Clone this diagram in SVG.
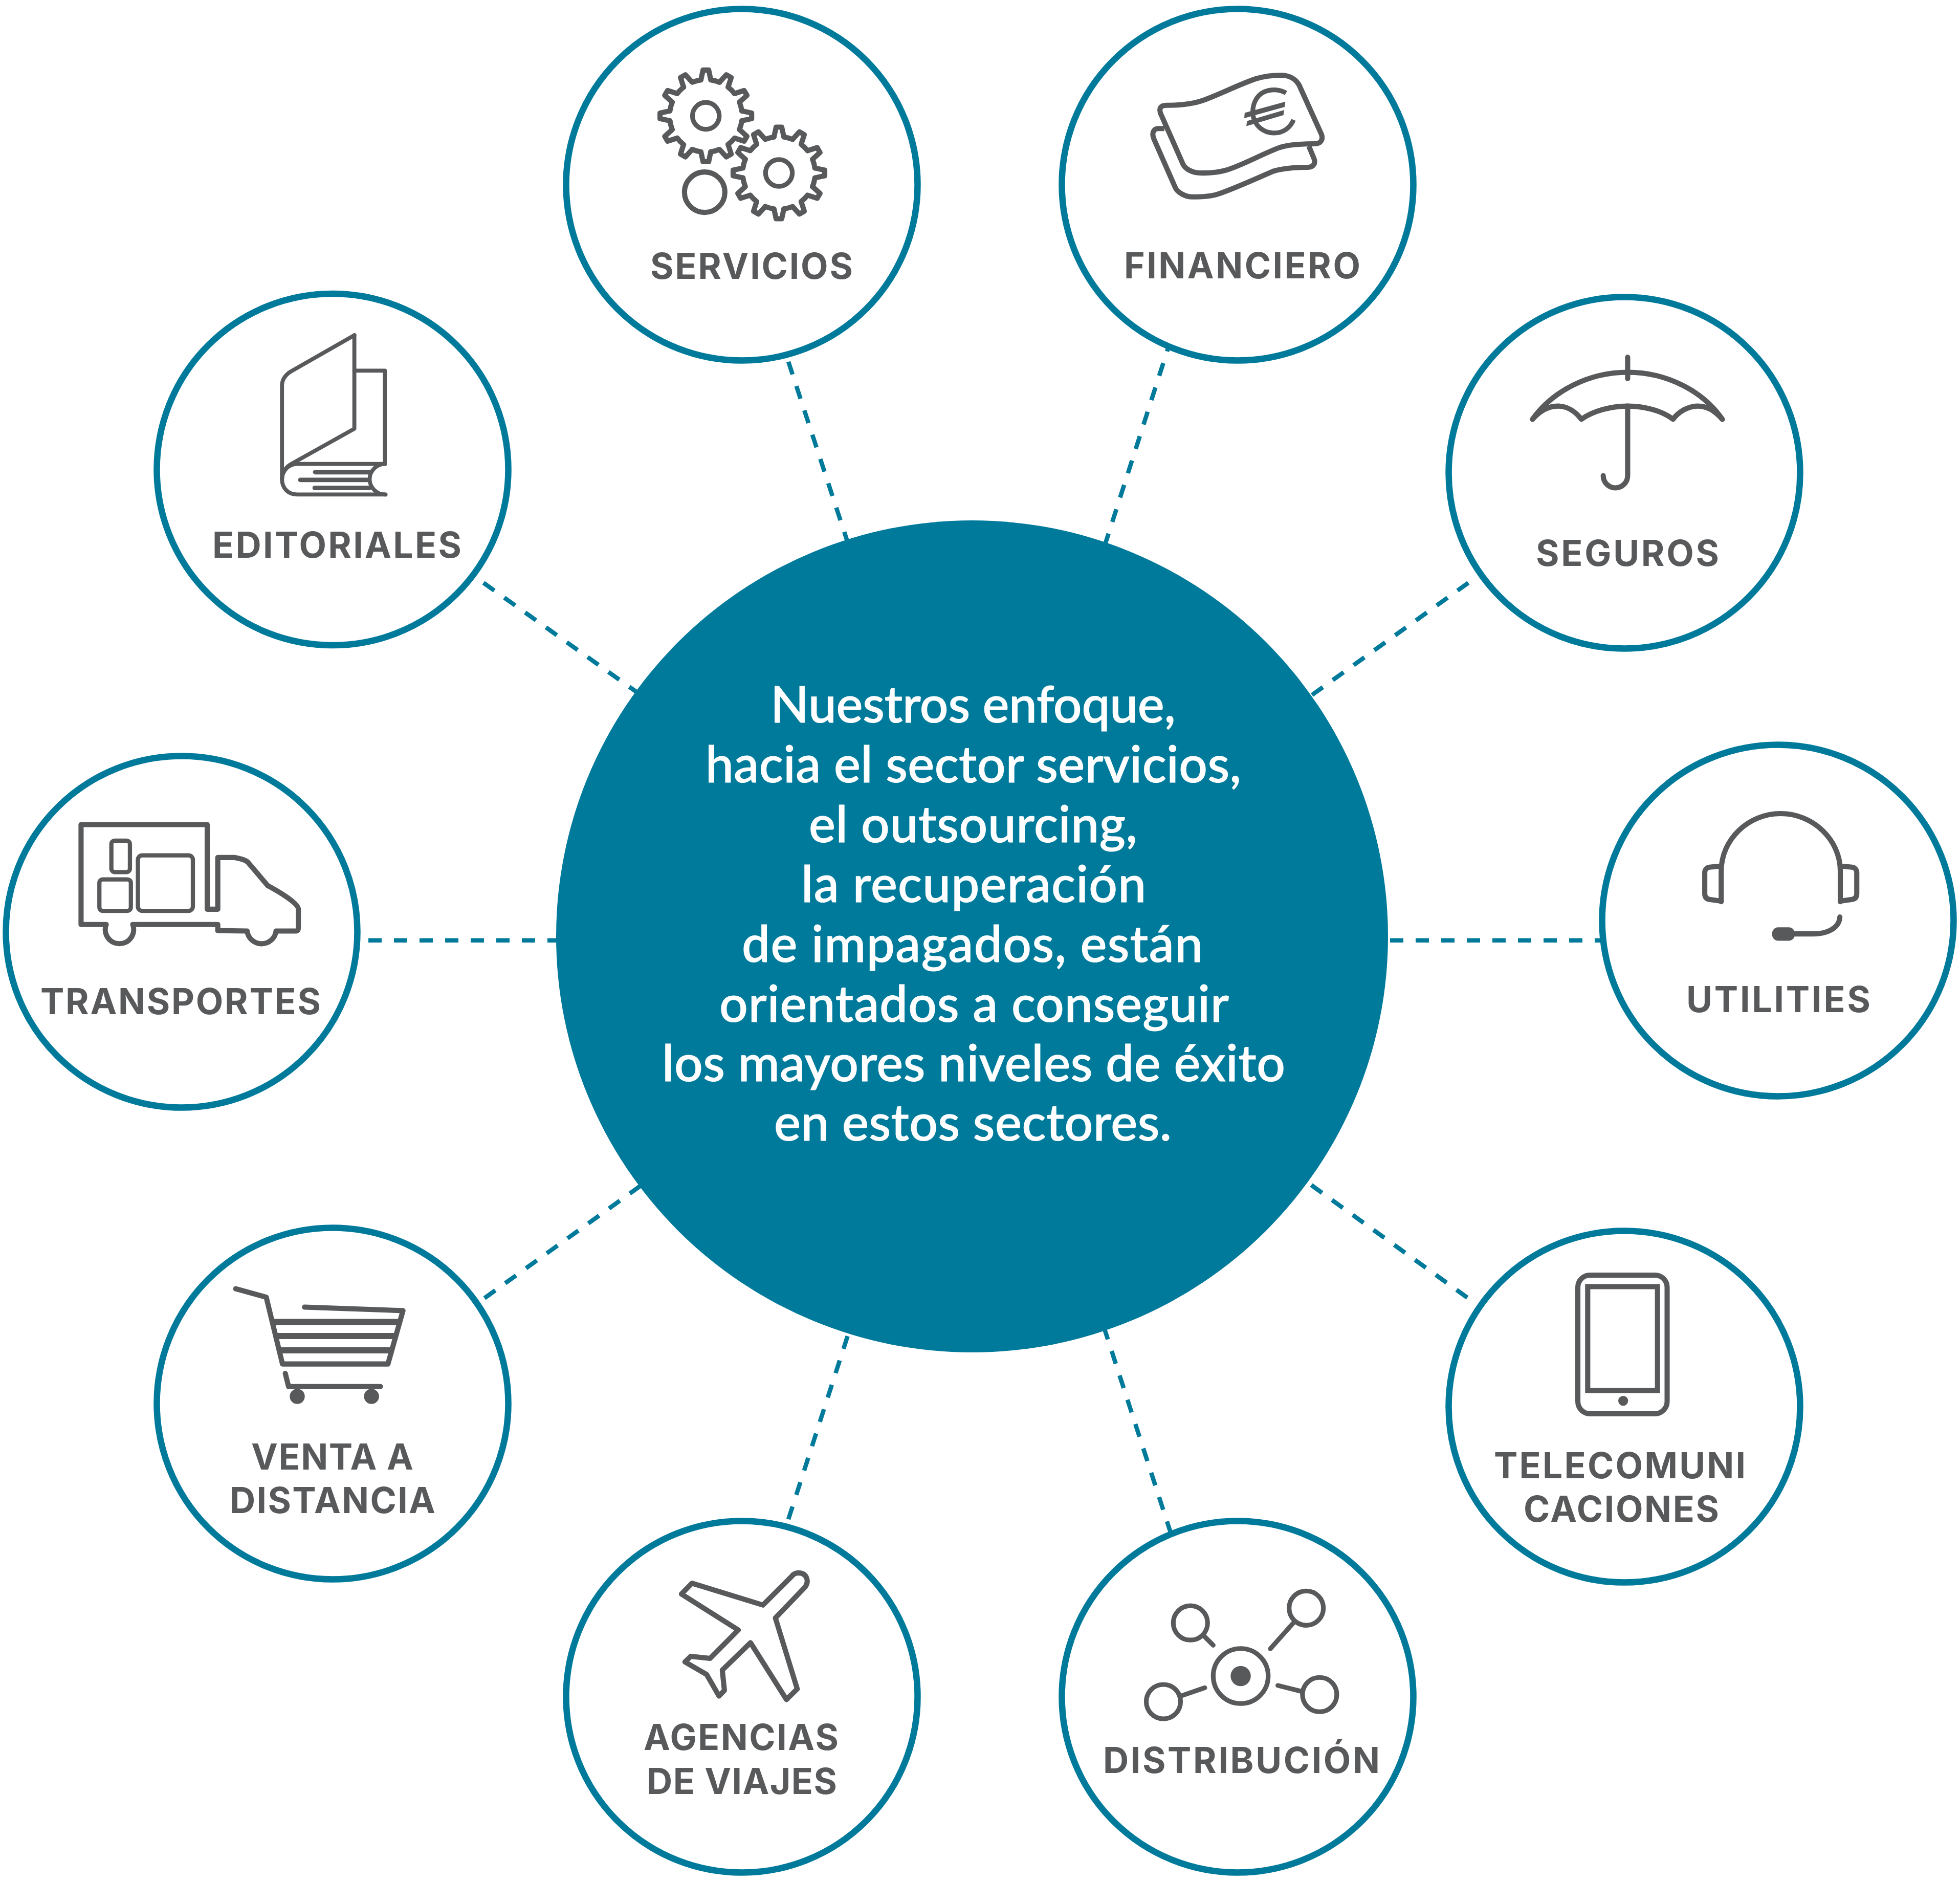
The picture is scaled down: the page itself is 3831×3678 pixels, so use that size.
<svg xmlns="http://www.w3.org/2000/svg" xmlns:xlink="http://www.w3.org/1999/xlink" width="3831" height="3678" viewBox="0 0 3831 3678">
<style>
.ring{fill:#fff;stroke:#007a9b;stroke-width:12.5}
.dash{fill:none;stroke:#007a9b;stroke-width:8.5;stroke-dasharray:26 24}
.ic{fill:none;stroke:#58595b;stroke-width:22;stroke-linejoin:round;stroke-linecap:round}
.f{fill:#58595b;stroke:none}
.lb{font-family:"Inter","Liberation Sans",sans-serif;font-weight:700;font-size:69.5px;fill:#58595b}
.ct{font-family:"Lato","Open Sans",sans-serif;font-weight:500;font-size:98px;fill:#fff;stroke:#fff;stroke-width:1.2}
</style>
<defs>
<g id="tooth"><path d="M-21,-153 L-12,-195 L12,-195 L21,-153 A155,155 0 0 1 58.3,-143"/></g>
<g id="gear">
<use href="#tooth"/>
<use href="#tooth" transform="rotate(30)"/>
<use href="#tooth" transform="rotate(60)"/>
<use href="#tooth" transform="rotate(90)"/>
<use href="#tooth" transform="rotate(120)"/>
<use href="#tooth" transform="rotate(150)"/>
<use href="#tooth" transform="rotate(180)"/>
<use href="#tooth" transform="rotate(210)"/>
<use href="#tooth" transform="rotate(240)"/>
<use href="#tooth" transform="rotate(270)"/>
<use href="#tooth" transform="rotate(300)"/>
<use href="#tooth" transform="rotate(330)"/>
<circle r="57" style="stroke-width:20"/>
</g>
</defs>
<rect width="3831" height="3678" fill="#fff"/>
<g id="connectors">
<path class="dash" d="M1541,707 L1670,1100"/>
<path class="dash" d="M2289,662 L2150,1095"/>
<path class="dash" d="M945,1139 L1290,1385"/>
<path class="dash" d="M2870,1139 L2520,1390"/>
<path class="dash" d="M720,1837.7 L1120,1837.7"/>
<path class="dash" d="M2717,1837.7 L3135,1837.7"/>
<path class="dash" d="M947,2537 L1290,2290"/>
<path class="dash" d="M2868,2536 L2520,2285"/>
<path class="dash" d="M1541,2969 L1670,2570"/>
<path class="dash" d="M2289,2998 L2150,2570"/>
</g>
<g id="centro">
<circle cx="1900" cy="1830" r="813" fill="#007a9b"/>
<text class="ct" x="1506" y="1412" textLength="792">Nuestros enfoque,</text>
<text class="ct" x="1379" y="1529" textLength="1047">hacia el sector servicios,</text>
<text class="ct" x="1581" y="1646" textLength="642">el outsourcing,</text>
<text class="ct" x="1566" y="1763" textLength="674">la recuperación</text>
<text class="ct" x="1450" y="1880" textLength="901">de impagados, están</text>
<text class="ct" x="1406" y="1997" textLength="996">orientados a conseguir</text>
<text class="ct" x="1294" y="2113" textLength="1218">los mayores niveles de éxito</text>
<text class="ct" x="1513" y="2229" textLength="777">en estos sectores.</text>
</g>
<g id="servicios">
<circle class="ring" cx="1450" cy="361" r="343.5"/>
<g class="ic" transform="translate(1100,0) scale(.4592)">
<use href="#gear" transform="translate(609,493)"/>
<use href="#gear" transform="translate(920,736)"/>
<circle cx="604" cy="818" r="86"/>
</g>
<text class="lb" x="1271" y="544.5" textLength="396">SERVICIOS</text>
</g>
<g id="financiero">
<circle class="ring" cx="2419" cy="361" r="343.5"/>
<g transform="translate(2060,0) scale(.4592)">
<path class="ic" d="M480,448 C540,448 600,440 640,425 C710,400 790,358 860,335 C890,326 930,320 965,320 C1000,320 1030,335 1045,365 L1138,570 C1148,595 1135,612 1110,612 C1050,612 1000,615 960,628 C880,658 800,705 730,725 C695,735 650,737 620,736 C590,735 560,720 550,700 L455,485 C445,460 455,448 480,448 Z"/>
<path class="ic" d="M470,547 L445,547 C425,547 415,565 425,590 L515,795 C525,820 560,838 590,838 C630,838 670,835 695,827 C760,806 860,760 935,728 C970,718 1020,712 1080,712 C1105,712 1115,695 1107,675 L1085,622" style="stroke-linecap:butt"/>
<path class="ic" d="M988,396 C960,380 925,378 895,391 C860,407 843,447 847,490 C855,535 890,565 935,566 C975,567 1005,545 1020,510" style="stroke-width:20;stroke-linecap:butt"/>
<polygon class="f" points="812,480 985,433 982,455 810,503"/>
<polygon class="f" points="822,515 980,468 977,490 819,537"/>
</g>
<text class="lb" x="2197" y="544" textLength="462">FINANCIERO</text>
</g>
<g id="editoriales">
<circle class="ring" cx="650" cy="917.5" r="343.5"/>
<g class="ic" style="stroke-width:17" transform="translate(300,560) scale(.4592)">
<path d="M855,207 L587,360 C565,372 547,395 547,420 L547,820 C547,860 575,885 612,885 L988,885"/>
<path d="M855,207 L855,605 L587,755 C565,767 547,790 547,820"/>
<path d="M855,358 L985,358 L985,755 L612,755 C575,755 547,785 547,820"/>
<path d="M985,755 C950,755 920,785 920,820 C920,855 950,885 985,885"/>
<path d="M688,790 L920,790 M625,823 L915,823 M686,857 L920,857" style="stroke-width:19"/>
</g>
<text class="lb" x="415" y="1089.5" textLength="487">EDITORIALES</text>
</g>
<g id="transportes">
<circle class="ring" cx="355" cy="1821" r="343.5"/>
<g class="ic" transform="translate(0,1460) scale(.4592)">
<path d="M345,755 L345,330 L882,330 L882,690 L927,690 L927,470 L997,470 C1020,474 1045,480 1055,490 L1140,590 C1190,617 1270,665 1270,690 L1270,770 Q1270,783 1258,783 L1175,783 A62,62 0 0 1 1052,783 L927,781 L927,755 L565,755 A60.4,60.4 0 1 1 452,755 Z"/>
<g style="stroke-width:18">
<rect x="474" y="398" width="79" height="134" rx="15"/>
<rect x="423" y="563" width="134" height="134" rx="15"/>
<rect x="587" y="461" width="234" height="236" rx="18"/>
</g>
</g>
<text class="lb" x="79" y="1982" textLength="548">TRANSPORTES</text>
</g>
<g id="venta">
<circle class="ring" cx="650" cy="2743" r="343.5"/>
<g class="ic" transform="translate(300,2380) scale(.4592)">
<path d="M350,302 L480,338 L549,622 L998,622 L1062,395 L643,380"/>
<path d="M512,443 L1042,443 M525,503 L1025,503 M540,564 L1008,564" style="stroke-width:26;stroke-linecap:butt"/>
<path d="M561,662 L575,718 L966,718"/>
<circle class="f" cx="612" cy="760" r="32"/>
<circle class="f" cx="928" cy="760" r="32"/>
</g>
<text class="lb" x="491" y="2872" textLength="317">VENTA A</text>
<text class="lb" x="449" y="2957" textLength="402">DISTANCIA</text>
</g>
<g id="agencias">
<circle class="ring" cx="1450" cy="3316" r="343.5"/>
<path class="ic" transform="translate(1100,2960) scale(.4592)" d="M1030,310 C1050,285 1040,250 1005,248 C990,248 980,255 975,262 L852,385 L550,292 L505,338 L747,491 L627,612 L545,603 L520,627 L612,680 L665,772 L688,748 L679,662 L799,545 L952,787 L998,742 L905,440 Z"/>
<text class="lb" x="1258" y="3420" textLength="381">AGENCIAS</text>
<text class="lb" x="1264" y="3505.5" textLength="372">DE VIAJES</text>
</g>
<g id="distribucion">
<circle class="ring" cx="2419" cy="3316" r="343.5"/>
<g class="ic" style="stroke-width:20" transform="translate(2060,2960) scale(.4592)">
<circle cx="581" cy="461" r="73"/>
<circle cx="1074" cy="398" r="73"/>
<circle cx="466" cy="796" r="73"/>
<circle cx="1131" cy="766" r="73"/>
<circle cx="795" cy="687" r="117"/>
<circle class="f" cx="795" cy="687" r="43"/>
<path d="M640,518 L678,556 M1022,458 L921,571 M540,772 L642,737 M1052,752 L953,727"/>
</g>
<text class="lb" x="2156" y="3465" textLength="541">DISTRIBUCIÓN</text>
</g>
<g id="telecomunicaciones">
<circle class="ring" cx="3175" cy="2749" r="343.5"/>
<g class="ic" transform="translate(2820,2390) scale(.4592)">
<rect x="575" y="222" width="380" height="590" rx="52"/>
<rect x="617" y="271" width="297" height="442" style="stroke-linejoin:miter"/>
<circle class="f" cx="768" cy="757" r="21"/>
</g>
<text class="lb" x="2920" y="2888.5" textLength="492">TELECOMUNI</text>
<text class="lb" x="2978" y="2973.5" textLength="382">CACIONES</text>
</g>
<g id="utilities">
<circle class="ring" cx="3475" cy="1799" r="343.5"/>
<g class="ic" transform="translate(3114,1450) scale(.4592)">
<path d="M545,680 L545,550 C545,415 660,305 798,305 C935,305 1052,415 1052,550 L1052,680"/>
<path d="M545,528 L495,533 C482,535 475,545 475,555 L475,645 C475,660 482,668 495,670 L545,677"/>
<path d="M1052,528 L1102,533 C1115,535 1122,545 1122,555 L1122,645 C1122,660 1115,668 1102,670 L1052,677"/>
<path d="M1050,745 C1048,790 1000,817 935,817 L850,817"/>
<rect class="f" x="762" y="789" width="96" height="57" rx="25"/>
</g>
<text class="lb" x="3296" y="1978" textLength="360">UTILITIES</text>
</g>
<g id="seguros">
<circle class="ring" cx="3175" cy="924" r="343.5"/>
<g class="ic" transform="translate(2820,570) scale(.4592)">
<path d="M382,543 C470,420 625,343 787,343 C950,343 1105,420 1190,543"/>
<path d="M382,543 C420,500 455,487 490,487 C530,487 565,510 590,543 C640,508 715,487 787,487 C860,487 935,508 980,543 C1005,510 1045,487 1085,487 C1125,487 1155,505 1190,543"/>
<path d="M787,279 L787,370 M787,487 L787,783 A52,52 0 0 1 683,783"/>
</g>
<text class="lb" x="3002" y="1106" textLength="358">SEGUROS</text>
</g>
</svg>
